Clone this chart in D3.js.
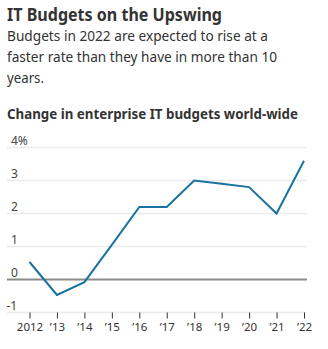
<!DOCTYPE html>
<html>
<head>
<meta charset="utf-8">
<script src="https://cdn.jsdelivr.net/npm/d3@7"></script>
<style>
	body { margin: 0; background: #fff; }
	svg text { font-family: "Noto Sans", sans-serif; fill: #333; }
</style>
</head>
<body>
<script>
var years = [2012, 2013, 2014, 2015, 2016, 2017, 2018, 2019, 2020, 2021, 2022];
var change = [0.53, -0.47, -0.08, 1.05, 2.2, 2.2, 3.0, 2.9, 2.8, 2.0, 3.6];
var yTicks = [-1, 0, 1, 2, 3, 4];
var xTickLabels = ['2012', '\u201913', '\u201914', '\u201915', '\u201916', '\u201917', '\u201918', '\u201919', '\u201920', '\u201921', '\u201922'];

var svg = d3.select('body')
	.append('svg')
	.attr('width', 328)
	.attr('height', 349);

// squeeze a text to a width (the original font is a bit narrower)
var fit = function(sel, w) {
	var len = sel.node().getComputedTextLength();
	if (len > w) {
		sel.attr('textLength', w).attr('lengthAdjust', 'spacingAndGlyphs');
	}
};

// headline + dek
svg.append('text')
	.attr('x', 7)
	.attr('y', 21)
	.style('font-size', '18px')
	.style('font-weight', 'bold')
	.text('IT Budgets on the Upswing')
	.call(fit, 215);

var dek = ['Budgets in 2022 are expected to rise at a',
	'faster rate than they have in more than 10',
	'years.'];
var dekW = [261, 270, 37];
svg.selectAll('.dek')
	.data(dek)
	.enter()
	.append('text')
	.classed('dek', true)
	.attr('x', 7)
	.attr('y', function(d, i) { return 41 + i * 21; })
	.style('font-size', '14px')
	.text(function(d) { return d; })
	.each(function(d, i) { fit(d3.select(this), dekW[i]); });

svg.append('text')
	.attr('x', 7)
	.attr('y', 119)
	.style('font-size', '14.5px')
	.style('font-weight', 'bold')
	.text('Change in enterprise IT budgets world-wide')
	.call(fit, 291);

// scales
var x = d3.scaleLinear()
	.domain([2012, 2022])
	.range([29.5, 304]);

var y = d3.scaleLinear()
	.domain([-1, 4])
	.range([312.5, 147.5]);

// grid
svg.selectAll('.grid')
	.data(yTicks)
	.enter()
	.append('line')
	.classed('grid', true)
	.attr('x1', 7)
	.attr('x2', 307)
	.attr('y1', function(d) { return y(d); })
	.attr('y2', function(d) { return y(d); })
	.style('stroke', function(d) { return d === 0 ? '#8c8c8c' : '#ebebeb'; })
	.style('stroke-width', function(d) { return d === 0 ? 2 : 1.5; });

// y labels, minus sign hangs left of the digits
svg.selectAll('.ylabel')
	.data(yTicks)
	.enter()
	.append('text')
	.classed('ylabel', true)
	.attr('x', function(d) { return d < 0 ? 6.5 : 11; })
	.attr('y', function(d) { return y(d) - 3; })
	.style('font-size', '12px')
	.style('fill', '#444')
	.text(function(d) { return d === 4 ? '4%' : d; });

// x axis
var xAxis = d3.axisBottom(x)
	.tickValues(years)
	.tickSize(6)
	.tickPadding(4)
	.tickFormat(function(d, i) { return xTickLabels[i]; });

var gx = svg.append('g')
	.attr('transform', 'translate(0,' + y(-1) + ')')
	.call(xAxis);
gx.select('.domain').remove();
gx.selectAll('.tick line')
	.style('stroke', '#333')
	.style('stroke-width', 1);
gx.selectAll('.tick text')
	.style('font-family', '"Noto Sans", sans-serif')
	.style('font-size', '11.5px')
	.style('fill', '#333');

// line
var line = d3.line()
	.x(function(d, i) { return x(years[i]); })
	.y(function(d) { return y(d); });

svg.append('path')
	.datum(change)
	.attr('d', line)
	.style('fill', 'none')
	.style('stroke', '#1a72a0')
	.style('stroke-width', 2)
	.style('stroke-linejoin', 'miter');
</script>
</body>
</html>
